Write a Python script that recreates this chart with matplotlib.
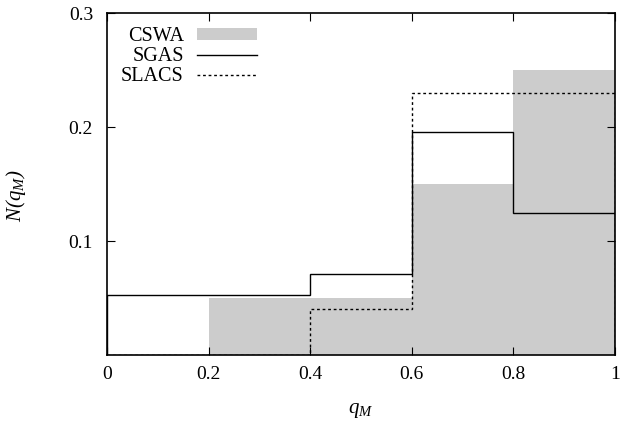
import matplotlib.pyplot as plt
import numpy as np

plt.rcParams['font.family'] = ['Liberation Serif', 'DejaVu Serif']
plt.rcParams['mathtext.fontset'] = 'custom'
plt.rcParams['mathtext.rm'] = 'Liberation Serif:italic'
plt.rcParams['mathtext.it'] = 'Liberation Serif:italic'

edges = [0.0, 0.2, 0.4, 0.6, 0.8, 1.0]
cswa = [0.0, 0.05, 0.05, 0.15, 0.25]
sgas = [0.053, 0.053, 0.071, 0.196, 0.125]
slacs = [0.0, 0.0, 0.04, 0.23, 0.23]

fig = plt.figure(figsize=(6.23, 4.21), dpi=100)
ax = fig.add_axes([0.1717, 0.1568, 0.8153, 0.8122])

ax.stairs(cswa, edges, fill=True, color='#cccccc', label='CSWA', zorder=1)
ax.stairs(sgas, edges, color='black', linewidth=1.0, label='SGAS', zorder=2)
ax.stairs(slacs, edges, color='black', linewidth=1.0, linestyle=(0, (2, 2)),
          label='SLACS', zorder=3)

ax.set_xlim(0, 1)
ax.set_ylim(0, 0.3)
ax.set_xticks([0, 0.2, 0.4, 0.6, 0.8, 1])
ax.set_xticklabels(['0', '0.2', '0.4', '0.6', '0.8', '1'])
ax.set_yticks([0.1, 0.2, 0.3])
ax.set_yticklabels(['0.1', '0.2', '0.3'])
ax.tick_params(direction='in', length=6, width=0.8, top=True, right=True,
               labelsize=14)
ax.tick_params(axis='x', pad=8)
ax.tick_params(axis='y', pad=10)
for s in ax.spines.values():
    s.set_linewidth(1.2)
    s.set_zorder(5)

ax.set_xlabel(r'$q_M$', fontsize=15)
ax.xaxis.set_label_coords(0.5, -0.135)
ax.set_ylabel(r'$N(q_M)$', fontsize=15)
ax.yaxis.set_label_coords(-0.155, 0.465)

ax.legend(loc='upper left', frameon=False,
          markerfirst=False, fontsize=14.5, handlelength=3.0, handleheight=0.6,
          labelspacing=0.05, borderaxespad=0.3, handletextpad=0.65)

fig.savefig('out.png', dpi=100)
